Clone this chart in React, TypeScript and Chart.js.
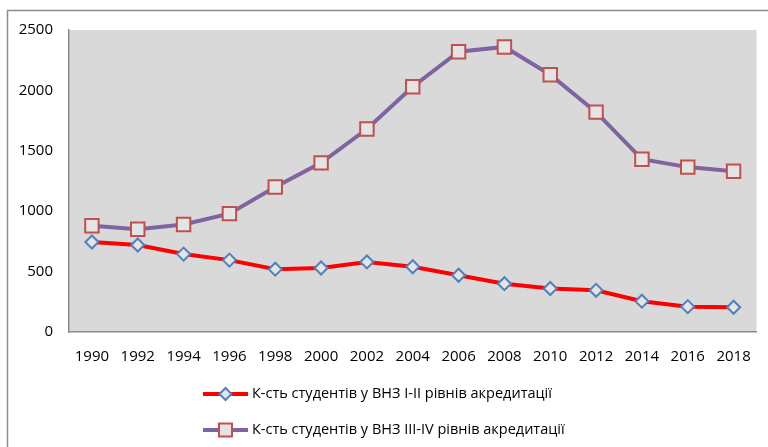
import React, { useEffect, useRef } from "react";
import { Chart, registerables } from "chart.js";

Chart.register(...registerables);

const years = ["1990","1992","1994","1996","1998","2000","2002","2004","2006","2008","2010","2012","2014","2016","2018"];
const seriesI_II = [745, 720, 645, 595, 520, 530, 580, 540, 470, 400, 360, 345, 255, 210, 205];
const seriesIII_IV = [880, 850, 890, 980, 1200, 1400, 1680, 2030, 2320, 2360, 2130, 1820, 1430, 1365, 1330];
const labelI_II = "К-сть студентів у ВНЗ І-ІІ рівнів акредитації";
const labelIII_IV = "К-сть студентів у ВНЗ ІІІ-IV рівнів акредитації";

const FONT = "'Open Sans', sans-serif";

export default function App() {
  const ref = useRef<HTMLCanvasElement | null>(null);
  useEffect(() => {
    if (!ref.current) return;
    const framePlugin = {
      id: "frame",
      beforeDraw(chart: any) {
        const { ctx, chartArea } = chart;
        ctx.save();
        ctx.fillStyle = "#ffffff";
        ctx.fillRect(0, 0, chart.width, chart.height);
        ctx.strokeStyle = "#8c8c8c";
        ctx.lineWidth = 1.5;
        ctx.strokeRect(7.5, 10.5, 900, 600);
        ctx.fillStyle = "#d9d9d9";
        ctx.fillRect(chartArea.left, chartArea.top, chartArea.right - chartArea.left, chartArea.bottom - chartArea.top);
        ctx.restore();
      },
      afterDraw(chart: any) {
        const { ctx } = chart;
        const items = chart.data.datasets.map((d: any, i: number) => ({ ds: d, y: i === 0 ? 394 : 430 }));
        ctx.save();
        items.forEach(({ ds, y }: any) => {
          const x0 = 203, x1 = 248;
          ctx.strokeStyle = ds.borderColor;
          ctx.lineWidth = ds.borderWidth;
          ctx.beginPath();
          ctx.moveTo(x0, y);
          ctx.lineTo(x1, y);
          ctx.stroke();
          const cx = (x0 + x1) / 2;
          ctx.fillStyle = ds.pointBackgroundColor;
          ctx.strokeStyle = ds.pointBorderColor;
          ctx.lineWidth = ds.pointBorderWidth;
          ctx.beginPath();
          if (ds.pointStyle === "rectRot") {
            const r = 6;
            ctx.moveTo(cx - r, y);
            ctx.lineTo(cx, y - r);
            ctx.lineTo(cx + r, y);
            ctx.lineTo(cx, y + r);
            ctx.closePath();
          } else {
            const s = 6.5;
            ctx.rect(cx - s, y - s, 2 * s, 2 * s);
          }
          ctx.fill();
          ctx.stroke();
          ctx.fillStyle = "#000";
          ctx.font = `14.5px ${FONT}`;
          ctx.textBaseline = "middle";
          ctx.textAlign = "left";
          ctx.fillText(ds.label, 252, y);
        });
        ctx.restore();
      },
    };
    const chart = new Chart(ref.current, {
      type: "line",
      data: {
        labels: years,
        datasets: [
          {
            label: labelI_II,
            data: seriesI_II,
            borderColor: "#ff0000",
            borderWidth: 4,
            pointStyle: "rectRot",
            pointRadius: 6.5,
            pointBorderWidth: 2,
            pointBorderColor: "#4f81bd",
            pointBackgroundColor: "#e4e4e4",
            tension: 0,
          },
          {
            label: labelIII_IV,
            data: seriesIII_IV,
            borderColor: "#8064a2",
            borderWidth: 4,
            pointStyle: "rect",
            pointRadius: 9.5,
            pointBorderWidth: 2,
            pointBorderColor: "#c0504d",
            pointBackgroundColor: "#e4e4e4",
            tension: 0,
          },
        ],
      },
      options: {
        animation: false,
        responsive: false,
        maintainAspectRatio: false,
        layout: { padding: { left: 0, top: 30, right: 10, bottom: 75 } },
        plugins: { legend: { display: false }, tooltip: { enabled: false } },
        scales: {
          x: {
            offset: true,
            grid: { display: false, drawTicks: false },
            border: { display: true, color: "#8c8c8c", width: 1.5 },
            ticks: { color: "#000", font: { family: FONT, size: 15 }, padding: 16, maxRotation: 0, autoSkip: false },
            afterFit(scale: any) { scale.height = 40; },
          },
          y: {
            min: 0,
            max: 2500,
            grid: { display: false, drawTicks: false },
            border: { display: true, color: "#8c8c8c", width: 1.5 },
            ticks: {
              stepSize: 500,
              color: "#000",
              font: { family: FONT, size: 15 },
              padding: 16,
              callback: (v: any) => String(v),
            },
            afterFit(scale: any) { scale.width = 69; },
          },
        },
      },
      plugins: [framePlugin],
    });
    return () => chart.destroy();
  }, []);
  return (
    <div style={{ position: "fixed", left: 0, top: 0, width: 768, height: 447 }}>
      <canvas ref={ref} width={768} height={447} style={{ width: 768, height: 447, display: "block" }} />
    </div>
  );
}
